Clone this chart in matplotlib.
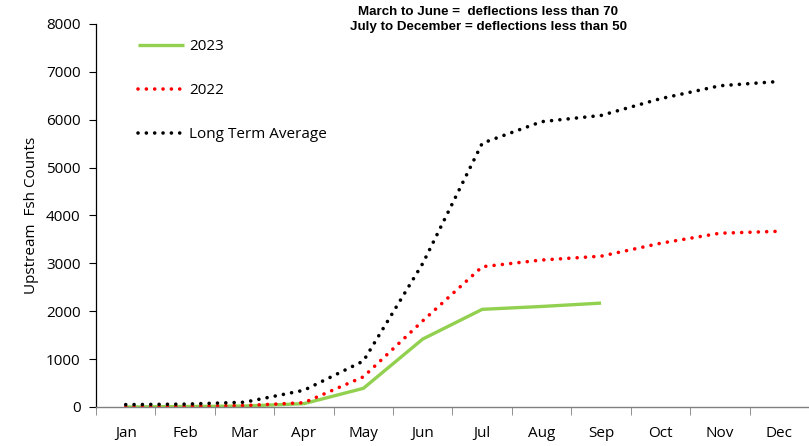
import matplotlib
matplotlib.use("Agg")
import matplotlib.pyplot as plt

months = ["Jan", "Feb", "Mar", "Apr", "May", "Jun", "Jul", "Aug", "Sep", "Oct", "Nov", "Dec"]
y2023 = [0, 10, 20, 70, 390, 1420, 2040, 2100, 2170]
y2022 = [0, 10, 30, 90, 630, 1800, 2930, 3070, 3150, 3420, 3630, 3670]
long_term = [50, 60, 100, 350, 960, 3000, 5510, 5960, 6090, 6440, 6710, 6800]

plt.rcParams['font.family'] = ['Open Sans', 'DejaVu Sans']

fig = plt.figure(figsize=(8.09, 4.46), dpi=100)
ax = fig.add_axes([96/809, 39/446, 1 - 96/809, (407-24)/446])

x23 = list(range(len(y2023)))
x22 = list(range(len(y2022)))
ax.plot(x23, y2023, color="#92d050", lw=2.4, label="2023", solid_capstyle="butt")
ax.plot(x22, y2022, color="#ff0000", lw=2.6, linestyle=(0, (0.01, 2.3)),
        dash_capstyle="round", label="2022")
ax.plot(x22, long_term, color="#000000", lw=2.6, linestyle=(0, (0.01, 2.3)),
        dash_capstyle="round", label="Long Term Average")

ax.set_xlim(-0.5, 11.38)
ax.set_ylim(0, 8000)
ax.set_yticks(range(0, 8001, 1000))
ax.set_xticks(range(len(months)))
ax.set_xticklabels(months)
ax.set_xticks([i - 0.5 for i in range(13)], minor=True)
ax.tick_params(axis="x", which="major", length=0, labelsize=11, pad=14)
ax.tick_params(axis="x", which="minor", length=6, color="#808080", direction="out")
ax.tick_params(axis="y", length=5, labelsize=11, direction="out", pad=6)

for s in ["top", "right"]:
    ax.spines[s].set_visible(False)
ax.spines["bottom"].set_color("#808080")
ax.spines["left"].set_color("#000000")
ax.spines["left"].set_linewidth(0.9)
ax.spines["bottom"].set_linewidth(1.0)

ax.set_ylabel("Upstream  Fsh Counts", fontsize=11, labelpad=5)

leg = ax.legend(loc="upper left", bbox_to_anchor=(138/809, 1 - 39/446),
                bbox_transform=fig.transFigure, frameon=False, fontsize=11,
                handlelength=3.0, handletextpad=0.35, labelspacing=1.9,
                borderaxespad=0, borderpad=0)

fig.text(488/809, 1 - 12/446, "March to June =  deflections less than 70",
         ha="center", va="center", fontsize=9.6, fontweight="bold",
         family=["Liberation Sans", "DejaVu Sans"])
fig.text(489/809, 1 - 27/446, "July to December = deflections less than 50",
         ha="center", va="center", fontsize=9.6, fontweight="bold",
         family=["Liberation Sans", "DejaVu Sans"])

fig.savefig("out.png", dpi=100)
